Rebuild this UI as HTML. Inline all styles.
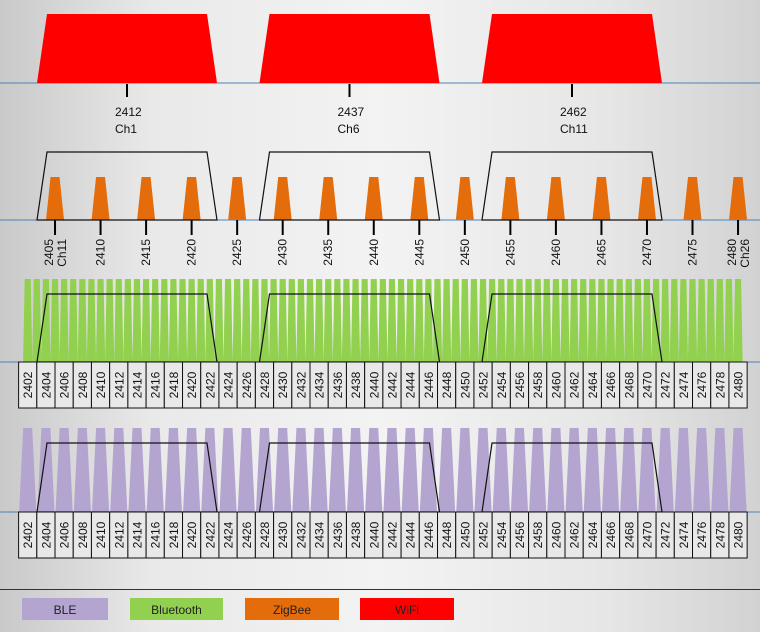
<!DOCTYPE html>
<html><head><meta charset="utf-8"><style>
html,body{margin:0;padding:0}
body{width:760px;height:632px;overflow:hidden;background:linear-gradient(90deg,#c9c9c9 0%,#e9e9e9 20%,#f3f3f3 50%,#e6e6e6 80%,#d2d2d2 100%);font-family:"Liberation Sans",sans-serif}
svg{display:block}
</style></head><body>
<svg id="chart" width="760" height="632" viewBox="0 0 760 632" xmlns="http://www.w3.org/2000/svg" font-family="Liberation Sans, DejaVu Sans, sans-serif"></svg>
<script>
const wifiCenters=[2412,2437,2462];
const wifiLabels=["Ch1","Ch6","Ch11"];
const zigbeeChannels=[2405,2410,2415,2420,2425,2430,2435,2440,2445,2450,2455,2460,2465,2470,2475,2480];
const zigbeeTickLabels=["2405","2410","2415","2420","2425","2430","2435","2440","2445","2450","2455","2460","2465","2470","2475","2480"];
const bluetoothStart=2402, bluetoothCount=79, bluetoothStep=1;
const bleStart=2402, bleCount=40, bleStep=2;
const legendItems=["BLE","Bluetooth","ZigBee","WiFi"];
const legendColors=["#b4a5d0","#92d050","#e46c0a","#ff0000"];

const svg=document.getElementById('chart');
const NS='http://www.w3.org/2000/svg';
function x(f){return 27.7+(f-2402)*9.107;}
function xw(f){return 127+(f-2412)*8.9;}
function mk(tag,attrs,parent){const e=document.createElementNS(NS,tag);for(const k in attrs)e.setAttribute(k,attrs[k]);(parent||svg).appendChild(e);return e;}
function trap(cx,hb,ht,yb,yt){return `${cx-hb},${yb} ${cx-ht},${yt} ${cx+ht},${yt} ${cx+hb},${yb}`;}

[83,220,362,512].forEach((y,i)=>{
  const l=mk('line',{x1:0,x2:760,y1:y,y2:y,stroke:'#4f81bd','stroke-width':1});
  
  
});

wifiCenters.forEach((c,i)=>{
  const cx=xw(c);
  const p=mk('polygon',{points:trap(cx,90,80,83,14),fill:'#ff0000'});
  
  
  const t=mk('line',{x1:cx,x2:cx,y1:84,y2:97,stroke:'#000','stroke-width':2});
  
  
  const tx=mk('text',{x:cx-12,y:116,'font-size':12,fill:'#111'});
  tx.textContent=c;
  
  
  const tx2=mk('text',{x:cx-12,y:133,'font-size':12,fill:'#111'});
  tx2.textContent=wifiLabels[i];
  
  
});

function outlines(yb,yt,name){
  wifiCenters.forEach(c=>{
    const o=mk('polygon',{points:trap(xw(c),90,80,yb,yt),fill:'none',stroke:'#111','stroke-width':1.2});
    
    
  });
}

zigbeeChannels.forEach((f,i)=>{
  const cx=x(f);
  const p=mk('polygon',{points:trap(cx,9,4.5,220,177),fill:'#e46c0a'});
  
  
  const t=mk('line',{x1:cx,x2:cx,y1:220,y2:235,stroke:'#000','stroke-width':2});
  
  
  const off=(i===0||i===zigbeeChannels.length-1)?-2:4;
  const tx=mk('text',{x:0,y:0,'font-size':12,fill:'#111','text-anchor':'end',transform:`translate(${cx+off},239) rotate(-90)`});
  tx.textContent=zigbeeTickLabels[i];
  
  
  if(i===0||i===zigbeeChannels.length-1){
    const c2=mk('text',{x:0,y:0,'font-size':12,fill:'#111','text-anchor':'end',transform:`translate(${cx+11},239) rotate(-90)`});
    c2.textContent=i===0?'Ch11':'Ch26';
    
    
  }
});
outlines(220,152,'wifi-outline-zigbee');

function boxes(yTop,name){
  for(let f=2402;f<=2480;f+=2){
    const cx=x(f);
    const r=mk('rect',{x:cx-9.1,y:yTop,width:18.2,height:46,fill:'#e8e8e8',stroke:'#111','stroke-width':1});
    
    
    const t=mk('text',{x:0,y:0,'font-size':12,fill:'#111','text-anchor':'middle',transform:`translate(${cx+4.5},${yTop+23}) rotate(-90)`});
    t.textContent=f;
    
    
  }
}

for(let i=0;i<bluetoothCount;i++){
  const cx=x(bluetoothStart+i*bluetoothStep);
  const p=mk('polygon',{points:trap(cx,4.6,3,362,279),fill:'#92d050'});
  
  
}
outlines(362,294,'wifi-outline-bluetooth');
boxes(362,'bluetooth');

for(let i=0;i<bleCount;i++){
  const cx=x(bleStart+i*bleStep);
  const p=mk('polygon',{points:trap(cx,8.6,4.5,512,428),fill:'#b4a5d0'});
  
  
}
outlines(512,443,'wifi-outline-ble');
boxes(512,'ble');

const sep=mk('line',{x1:0,x2:760,y1:589.5,y2:589.5,stroke:'#333','stroke-width':1});



const lx=[22,130,245,360], lw=[86,93,94,94];
legendItems.forEach((s,i)=>{
  const g=mk('g',{});
  
  
  mk('rect',{x:lx[i],y:598,width:lw[i],height:22,fill:legendColors[i]},g);
  const t=mk('text',{x:lx[i]+lw[i]/2,y:614,'font-size':12,fill:'#222','text-anchor':'middle'},g);
  t.textContent=s;
});
</script>
</body></html>
